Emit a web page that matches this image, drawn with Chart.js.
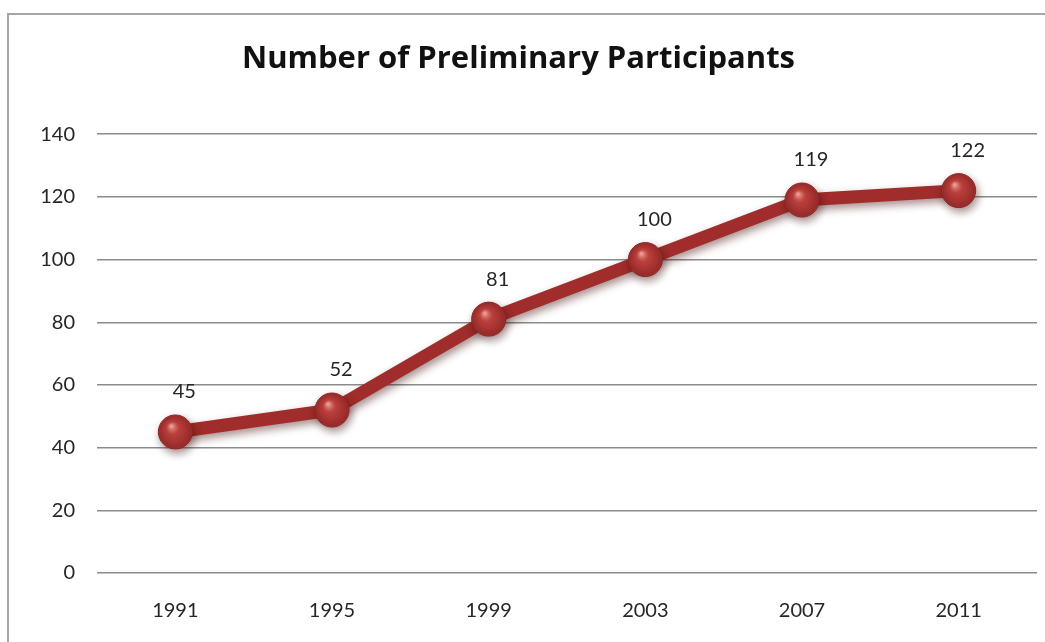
<!DOCTYPE html>
<html>
<head>
<meta charset="utf-8">
<script src="https://cdn.jsdelivr.net/npm/chart.js@4.4.1/dist/chart.umd.min.js"></script>
<style>
  html, body { margin: 0; padding: 0; background: #fff; }
  #wrap { position: relative; width: 1045px; height: 642px; overflow: hidden; }
  #frame { position: absolute; left: 7px; top: 13px; width: 1100px; height: 700px;
           border-left: 2px solid #a6a6a6; border-top: 2px solid #a6a6a6; }
  canvas { position: absolute; left: 0; top: 0; }
</style>
</head>
<body>
<div id="wrap">
  <div id="frame"></div>
  <canvas id="myChart" width="1045" height="642"></canvas>
</div>
<script>
const years = ['1991', '1995', '1999', '2003', '2007', '2011'];
const participants = [45, 52, 81, 100, 119, 122];
const titleText = 'Number of Preliminary Participants';

const ctx = document.getElementById('myChart').getContext('2d');

// shadow under the thick line and the balls
const shadowPlugin = {
    id: 'shadow',
    beforeDatasetsDraw(chart) {
        const c = chart.ctx;
        c.save();
        c.shadowColor = 'rgba(60,0,0,0.45)';
        c.shadowBlur = 8;
        c.shadowOffsetX = 2;
        c.shadowOffsetY = 4;
    },
    afterDatasetsDraw(chart) {
        const c = chart.ctx;
        c.restore();
        const meta = chart.getDatasetMeta(0);
        // glossy highlight on each ball
        meta.data.forEach(pt => {
            const g = c.createRadialGradient(pt.x - 4, pt.y - 6, 1, pt.x, pt.y, 17);
            g.addColorStop(0, 'rgba(255,190,180,0.75)');
            g.addColorStop(0.35, 'rgba(220,80,75,0.35)');
            g.addColorStop(1, 'rgba(110,20,20,0.35)');
            c.beginPath();
            c.arc(pt.x, pt.y, 16, 0, Math.PI * 2);
            c.fillStyle = g;
            c.fill();
        });
        // value labels
        c.save();
        c.font = '20px Lato, "DejaVu Sans", sans-serif';
        c.fillStyle = '#262626';
        c.textAlign = 'center';
        c.textBaseline = 'middle';
        meta.data.forEach((pt, i) => {
            c.fillText(participants[i], pt.x + 9, pt.y - 40);
        });
        c.restore();
    }
};

let myChart = new Chart(ctx, {
    type: 'line',
    data: {
        labels: years,
        datasets: [{
            label: 'Participants',
            data: participants,
            borderColor: '#a02d2b',
            borderWidth: 13,
            tension: 0,
            pointRadius: 17,
            pointHoverRadius: 17,
            pointBackgroundColor: '#a83533',
            pointBorderColor: '#8a2323',
            pointBorderWidth: 1
        }]
    },
    options: {
        responsive: false,
        animation: false,
        layout: {
            autoPadding: false,
            padding: { left: 0, right: 8, top: 0, bottom: -7 }
        },
        plugins: {
            legend: { display: false },
            tooltip: { enabled: false },
            title: {
                display: true,
                text: titleText,
                color: '#111',
                font: { family: '"Open Sans", Lato, sans-serif', size: 31, weight: 'bold' },
                padding: { top: 41, bottom: 56 }
            }
        },
        scales: {
            x: {
                offset: true,
                grid: { display: false, drawTicks: false },
                border: { display: false },
                ticks: {
                    color: '#262626',
                    padding: 26,
                    font: { family: 'Lato, "DejaVu Sans", sans-serif', size: 20 }
                }
            },
            y: {
                min: 0,
                max: 140,
                afterFit(scale) { scale.width = 97; },
                grid: { color: '#8c8c8c', lineWidth: 1.5, drawTicks: false },
                border: { display: false },
                ticks: {
                    stepSize: 20,
                    color: '#262626',
                    padding: 22,
                    font: { family: 'Lato, "DejaVu Sans", sans-serif', size: 20 }
                }
            }
        }
    },
    plugins: [shadowPlugin]
});
</script>
</body>
</html>
